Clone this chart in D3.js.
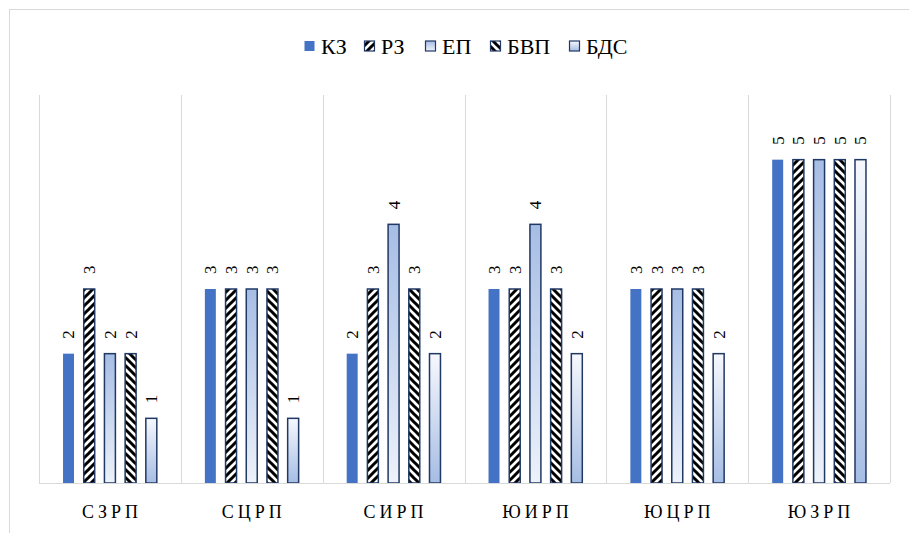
<!DOCTYPE html>
<html>
<head>
<meta charset="utf-8">
<script src="https://cdn.jsdelivr.net/npm/d3@7"></script>
<style>
  html, body { margin: 0; padding: 0; background: #fff; }
  svg { display: block; }
  svg text { font-family: "Liberation Serif", "DejaVu Serif", "Times New Roman", serif; }
</style>
</head>
<body>
<svg id="chart"></svg>
<script>
// data
const categories = ['СЗРП', 'СЦРП', 'СИРП', 'ЮИРП', 'ЮЦРП', 'ЮЗРП'];
const seriesNames = ['КЗ', 'РЗ', 'ЕП', 'БВП', 'БДС'];
const kz  = [2, 3, 2, 3, 3, 5];
const rz  = [3, 3, 3, 3, 3, 5];
const ep  = [2, 3, 4, 4, 3, 5];
const bvp = [2, 3, 3, 3, 3, 5];
const bds = [1, 1, 2, 2, 2, 5];
const yDomain = [0, 6];

const values = { 'КЗ': kz, 'РЗ': rz, 'ЕП': ep, 'БВП': bvp, 'БДС': bds };
const GRID = '#d9d9d9';
const NAVY = '#203864';

const W = 909, H = 533;
const margin = { top: 95, right: 19, bottom: 50, left: 39 };
const iW = W - margin.left - margin.right;
const iH = H - margin.top - margin.bottom;

const svg = d3.select('#chart').attr('width', W).attr('height', H);

/* ── defs: gradients + hatch patterns ── */
const defs = svg.append('defs');
const grad = (id, top, bottom) => {
  const lg = defs.append('linearGradient').attr('id', id)
    .attr('x1', 0).attr('y1', 0).attr('x2', 0).attr('y2', 1);
  lg.append('stop').attr('offset', '0%').attr('stop-color', top);
  lg.append('stop').attr('offset', '100%').attr('stop-color', bottom);
};
grad('g-ep', '#a6bde4', '#edf2fa');
grad('g-bds', '#f6f8fd', '#a6bde4');

const hatch = (id, up) => {
  const p = defs.append('pattern').attr('id', id)
    .attr('patternUnits', 'userSpaceOnUse').attr('width', 8).attr('height', 8);
  p.append('rect').attr('width', 8).attr('height', 8).attr('fill', '#fff');
  const d = up
    ? 'M-2,2 L2,-2 M0,8 L8,0 M6,10 L10,6'
    : 'M-2,6 L2,10 M0,0 L8,8 M6,-2 L10,2';
  p.append('path').attr('d', d).attr('stroke', '#000').attr('stroke-width', 3);
};
hatch('h-rz', true);
hatch('h-bvp', false);

const fills = { 'КЗ': '#4472c4', 'РЗ': 'url(#h-rz)', 'ЕП': 'url(#g-ep)', 'БВП': 'url(#h-bvp)', 'БДС': 'url(#g-bds)' };
const strokes = { 'КЗ': 'none', 'РЗ': NAVY, 'ЕП': NAVY, 'БВП': NAVY, 'БДС': NAVY };

/* ── outer frame ── */
svg.append('rect')
  .attr('x', 9.5).attr('y', 9.5).attr('width', 1000).attr('height', 1000)
  .attr('fill', 'none').attr('stroke', GRID);

const g = svg.append('g').attr('transform', `translate(${margin.left},${margin.top})`);

/* ── scales ── */
const x = d3.scaleBand().domain(categories).range([0, iW]).padding(0);
const step = 20.7;
const inner = d3.scaleBand().domain(seriesNames)
  .range([-step * 5.47 / 2, step * 5.47 / 2]).padding(0.47);
const y = d3.scaleLinear().domain(yDomain).range([iH, 0]);

/* ── vertical grid lines ── */
const bounds = categories.map((c) => x(c)).concat([iW]);
g.selectAll('line.grid').data(bounds).join('line')
  .attr('class', 'grid')
  .attr('x1', (d) => Math.round(d) + 0.5).attr('x2', (d) => Math.round(d) + 0.5)
  .attr('y1', 0).attr('y2', iH)
  .attr('stroke', GRID);

/* ── bars ── */
const rows = [];
categories.forEach((c, i) => {
  seriesNames.forEach((s) => rows.push({ cat: c, series: s, value: values[s][i] }));
});

const cx = (d) => x(d.cat) + x.bandwidth() / 2 + inner(d.series);
g.selectAll('rect.bar').data(rows).join('rect')
  .attr('class', 'bar')
  .attr('x', cx)
  .attr('y', (d) => y(d.value))
  .attr('width', inner.bandwidth())
  .attr('height', (d) => y(0) - y(d.value))
  .attr('fill', (d) => fills[d.series])
  .attr('stroke', (d) => strokes[d.series])
  .attr('stroke-width', 1.5);

/* ── value labels (rotated) ── */
g.selectAll('text.val').data(rows).join('text')
  .attr('class', 'val')
  .attr('transform', (d) => `translate(${cx(d) + inner.bandwidth() / 2},${y(d.value) - 15}) rotate(-90)`)
  .attr('dy', '0.35em')
  .attr('text-anchor', 'start')
  .attr('font-size', 17)
  .attr('fill', '#000')
  .text((d) => d.value);

/* ── baseline ── */
g.append('line')
  .attr('x1', 0).attr('x2', iW)
  .attr('y1', iH + 0.5).attr('y2', iH + 0.5)
  .attr('stroke', GRID);

/* ── x axis labels ── */
const ls = 4;
g.selectAll('text.cat').data(categories).join('text')
  .attr('class', 'cat')
  .attr('x', (d) => x(d) + x.bandwidth() / 2 + ls / 2)
  .attr('y', iH + 35)
  .attr('text-anchor', 'middle')
  .attr('font-size', 18)
  .attr('letter-spacing', ls)
  .attr('fill', '#000')
  .text((d) => d);

/* ── legend ── */
const legendStarts = [304, 364, 425, 490, 569];
const legend = svg.append('g').attr('transform', 'translate(0,46)');
seriesNames.forEach((s, i) => {
  const item = legend.append('g').attr('transform', `translate(${legendStarts[i]},0)`);
  item.append('rect')
    .attr('x', 0.5).attr('y', -5).attr('width', 10).attr('height', 10)
    .attr('fill', fills[s])
    .attr('stroke', strokes[s]).attr('stroke-width', 1.2);
  item.append('text')
    .attr('x', 17).attr('dy', '0.35em')
    .attr('font-size', 22)
    .attr('fill', '#000')
    .text(s);
});
</script>
</body>
</html>
